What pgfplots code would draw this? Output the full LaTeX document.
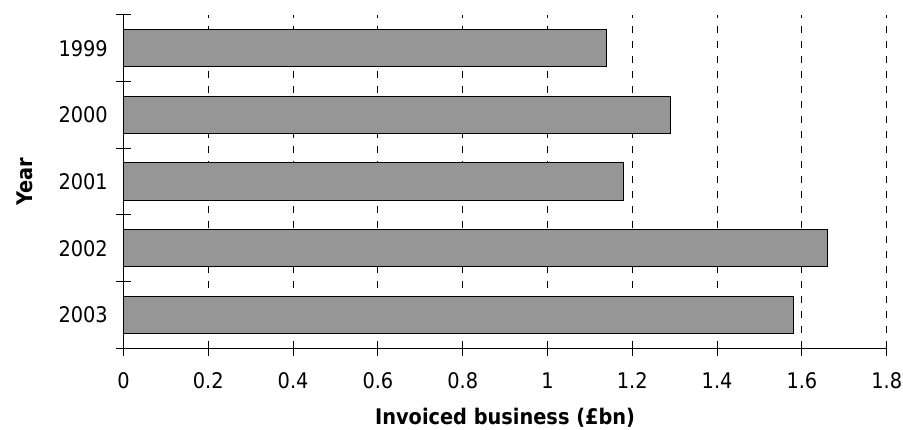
\documentclass[border=0pt]{standalone}
\usepackage{fontspec}
\setmainfont{DejaVu Sans Condensed}
\usepackage{pgfplots}
\pgfplotsset{compat=1.18}
\definecolor{barg}{RGB}{150,150,150}
\begin{document}
\begin{tikzpicture}[font=\fontsize{21.5bp}{25bp}\selectfont]
\useasboundingbox (-123.5bp,-81.7bp) rectangle (779.5bp,348.3bp);
\begin{axis}[
  at={(0,0)}, anchor=south west,
  scale only axis, width=763.2bp, height=333.3bp,
  xbar, bar width=37.3bp,
  xmin=0, xmax=1.8, ymin=-0.5, ymax=4.5,
  xtick={0,0.2,0.4,0.6,0.8,1,1.2,1.4,1.6,1.8},
  ytick={0,1,2,3,4}, yticklabels={2003,2002,2001,2000,1999},
  minor ytick={-0.5,0.5,1.5,2.5,3.5,4.5},
  axis lines*=left,
  axis line style={black, line width=1bp},
  tick align=center,
  major tick length=15bp, minor tick length=15bp,
  major y tick style={draw=none},
  minor y tick style={black, line width=1bp},
  major x tick style={black, line width=1bp},
  xmajorgrids,
  major grid style={black, line width=1bp, dash pattern=on 7.5bp off 7.5bp},
  /pgf/number format/assume math mode=true,
  xticklabel style={anchor=north, inner sep=0pt, yshift=-17bp},
  yticklabel style={anchor=east, inner sep=0pt, xshift=-8bp},
  xlabel={\bfseries Invoiced business (£bn)},
  ylabel={\bfseries Year},
  xlabel style={at={(axis description cs:0.5,0)}, anchor=center, yshift=-69bp},
  ylabel style={at={(axis description cs:-0.129,0.5)}, anchor=center},
  clip=false,
]
\addplot[fill=barg, draw=black, line width=1bp] coordinates {(1.14,4) (1.29,3) (1.18,2) (1.66,1) (1.58,0)};
\end{axis}
\end{tikzpicture}
\end{document}
